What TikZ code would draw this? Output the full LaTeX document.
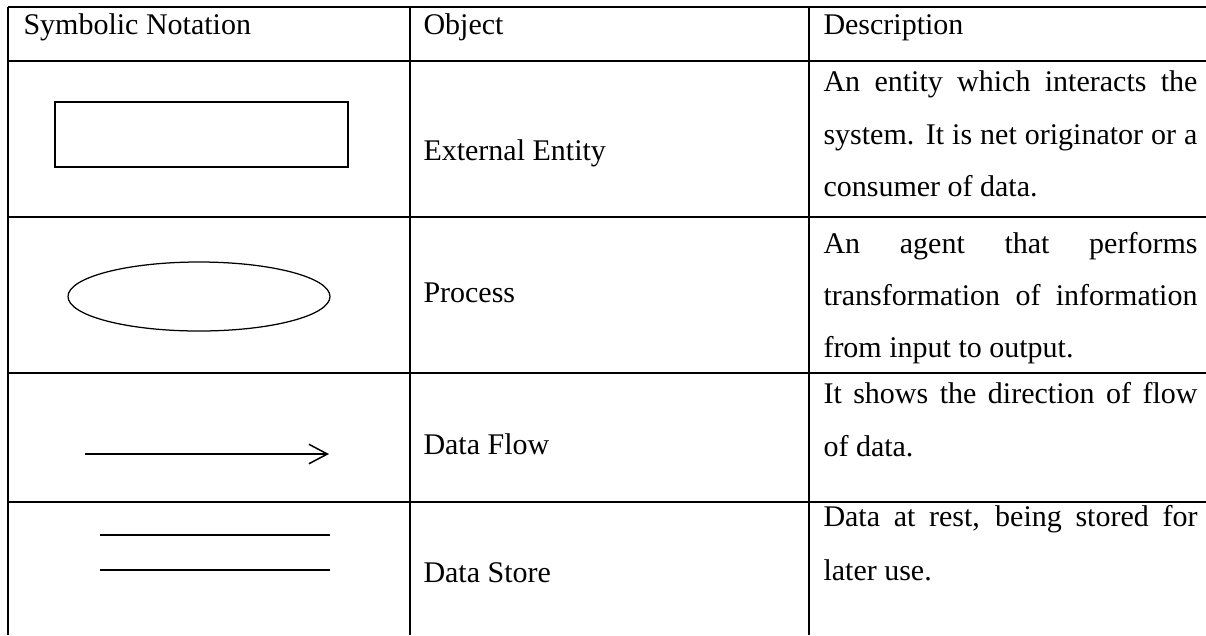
\documentclass[tikz,border=0pt]{standalone}
\usepackage{fontspec}
\setmainfont{Liberation Serif}
\usetikzlibrary{shapes.geometric,arrows.meta}

\tikzset{
	rule/.style={line width=0.8pt},
	cell/.style={anchor=base west, inner sep=0pt, font=\fontsize{12}{14}\selectfont},
	symbol/.style={draw, inner sep=0pt, line width=0.5pt},
}
\newcommand{\fullline}[1]{\makebox[149.6pt][s]{#1}}

\begin{document}
\begin{tikzpicture}[x=0.4pt, y=-0.4pt]
	\useasboundingbox (0,0) rectangle (1206,635);
	% Table rules:
	\foreach \y in {7,61,217,373,502} \draw[rule] (8,\y) -- (1206,\y);
	\foreach \x in {8,410,809} \draw[rule] (\x,7) -- (\x,635);
	% Header row:
	\node[cell](H1) at (23,34){Symbolic Notation};
	\node[cell](H2) at (423,34){Object};
	\node[cell](H3) at (823,34){Description};
	% Symbols:
	\node[symbol, rectangle, minimum width=117.2pt, minimum height=26pt](S1) at (201.5,134.5){};
	\node[symbol, ellipse, minimum width=104.8pt, minimum height=27.6pt](S2) at (199,296.5){};
	\coordinate (F1) at (85,454);
	\coordinate (F2) at (329,454);
	\draw[line width=0.6pt, -{Straight Barb[length=7.4pt,width=7.8pt]}] (F1) -- (F2);
	\coordinate (T1) at (100,535);
	\coordinate (T2) at (330,535);
	\coordinate (T3) at (100,570);
	\coordinate (T4) at (330,570);
	\draw[line width=0.9pt] (T1) -- (T2);
	\draw[line width=0.9pt] (T3) -- (T4);
	% Objects:
	\node[cell](N1) at (423,160){External Entity};
	\node[cell](N2) at (423,302){Process};
	\node[cell](N3) at (423,454){Data Flow};
	\node[cell](N4) at (423,582){Data Store};
	% Descriptions:
	\node[cell](D1) at (823,91){\fullline{An entity which interacts the}};
	\node[cell](D2) at (823,144){\fullline{system. It is net originator or a}};
	\node[cell](D3) at (823,196){consumer of data.};
	\node[cell](D4) at (823,253){\fullline{An agent that performs}};
	\node[cell](D5) at (823,305){\fullline{transformation of information}};
	\node[cell](D6) at (823,357){from input to output.};
	\node[cell](D7) at (823,403){\fullline{It shows the direction of flow}};
	\node[cell](D8) at (823,456){of data.};
	\node[cell](D9) at (823,526){\fullline{Data at rest, being stored for}};
	\node[cell](D10) at (823,580){later use.};
\end{tikzpicture}
\end{document}
